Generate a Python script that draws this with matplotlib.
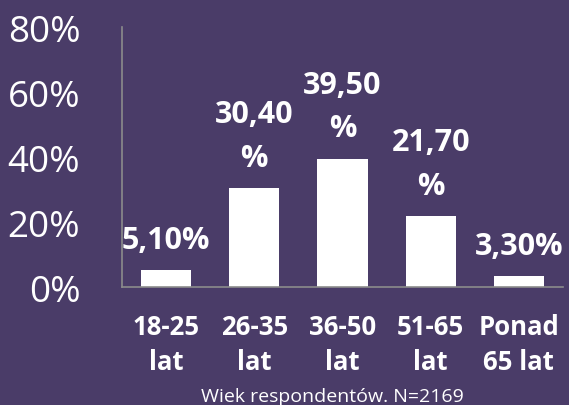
import matplotlib.pyplot as plt
from matplotlib.ticker import FuncFormatter

categories = ['18-25\nlat', '26-35\nlat', '36-50\nlat', '51-65\nlat', 'Ponad\n65 lat']
values = [5.1, 30.4, 39.5, 21.7, 3.3]
labels = ['5,10%', '30,40\n%', '39,50\n%', '21,70\n%', '3,30%']
yticks = [0, 20, 40, 60, 80]

bg = '#4a3c68'
plt.rcParams['font.family'] = ['Open Sans', 'DejaVu Sans']

fig = plt.figure(figsize=(5.69, 4.06), dpi=100, facecolor=bg)
ax = fig.add_axes([0.2144, 0.2906, 0.7751, 0.6404])
ax.set_facecolor(bg)

x = range(len(values))
bars = ax.bar(x, values, width=0.57, color='white')
ax.set_xlim(-0.5, len(values) - 0.5)
ax.set_ylim(0, 80)
ax.set_yticks(yticks)
ax.yaxis.set_major_formatter(FuncFormatter(lambda v, p: f'{v:.0f}%'))
ax.tick_params(axis='y', length=0, labelsize=26.5, labelcolor='white', pad=30)
ax.set_xticks(list(x))
ax.set_xticklabels(categories, fontsize=18.5, fontweight='bold', color='white',
                   linespacing=1.35)
ax.tick_params(axis='x', length=0, pad=19)

for s in ['top', 'right']:
    ax.spines[s].set_visible(False)
for s in ['left', 'bottom']:
    ax.spines[s].set_color('#8c8c8c')
    ax.spines[s].set_linewidth(1.2)

for b, lab in zip(bars, labels):
    ax.annotate(lab, (b.get_x() + b.get_width() / 2, b.get_height()),
                xytext=(0, 11), textcoords='offset points', ha='center', va='bottom',
                fontsize=22, fontweight='bold', color='white', linespacing=1.6)

ax.set_xlabel('Wiek respondentów. N=2169', fontsize=14, color='white')
ax.xaxis.set_label_coords(0.476, -0.385)

fig.savefig('out.png', facecolor=bg)
